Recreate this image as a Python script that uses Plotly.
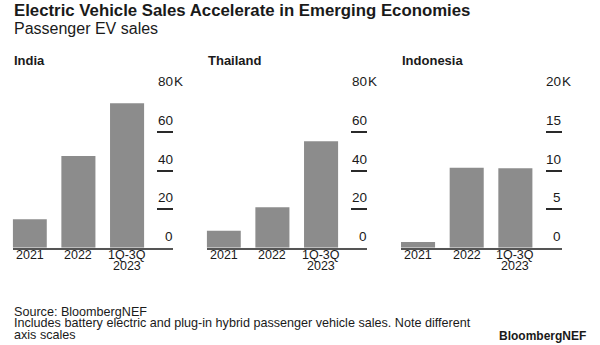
import plotly.graph_objects as go

# ---- data ----
countries = ["India", "Thailand", "Indonesia"]
periods = ["2021", "2022", "1Q-3Q<br>2023"]
india_sales = [14700, 47500, 74800]
thailand_sales = [8800, 20900, 55100]
indonesia_sales = [740, 10350, 10280]
sales = [india_sales, thailand_sales, indonesia_sales]

india_ticks = [0, 20000, 40000, 60000, 80000]
thailand_ticks = [0, 20000, 40000, 60000, 80000]
indonesia_ticks = [0, 5000, 10000, 15000, 20000]
tick_vals = [india_ticks, thailand_ticks, indonesia_ticks]

india_tick_text = ["0", "20", "40", "60", "80"]
thailand_tick_text = ["0", "20", "40", "60", "80"]
indonesia_tick_text = ["0", "5", "10", "15", "20"]
tick_texts = [india_tick_text, thailand_tick_text, indonesia_tick_text]
unit_suffix = "K"

title = "Electric Vehicle Sales Accelerate in Emerging Economies"
subtitle = "Passenger EV sales"
footer_lines = [
    "Source: BloombergNEF",
    "Includes battery electric and plug-in hybrid passenger vehicle sales. Note different",
    "axis scales",
]
brand = "BloombergNEF"

# ---- layout constants ----
W, H = 600, 345
FONT = "Liberation Sans, Arial, sans-serif"
BAR = "#8c8c8c"
INK = "#1a1a1a"
x_left = [12.7, 206.7, 401.0]
panel_w = 160.6
y_base = 247.7
y_top = 93.3

fig = go.Figure()
annotations = []
for i, (name, vals) in enumerate(zip(countries, sales)):
    xa = "x" if i == 0 else f"x{i+1}"
    ya = "y" if i == 0 else f"y{i+1}"
    fig.add_trace(go.Bar(
        x=periods, y=vals, xaxis=xa, yaxis=ya,
        marker=dict(color=BAR, line=dict(width=0)),
        width=0.7, showlegend=False, hoverinfo="skip",
    ))
    xkey = "xaxis" if i == 0 else f"xaxis{i+1}"
    ykey = "yaxis" if i == 0 else f"yaxis{i+1}"
    fig.update_layout({
        xkey: dict(
            domain=[x_left[i] / W, (x_left[i] + panel_w) / W],
            anchor=ya, type="category", categoryorder="array", categoryarray=periods,
            range=[-0.35, 2.95],
            showline=True, linecolor="#555555", linewidth=1.5,
            ticks="", showgrid=False, zeroline=False, showticklabels=False,
            fixedrange=True,
        ),
        ykey: dict(
            domain=[1 - y_base / H, 1 - y_top / H],
            anchor=xa, side="right", range=[0, tick_vals[i][-1]],
            tickmode="array", tickvals=tick_vals[i],
            ticks="inside", ticklen=16, tickwidth=1.6, tickcolor="#2a2a2a",
            showticklabels=False, showline=False, showgrid=False, zeroline=False,
            fixedrange=True,
        ),
    })
    xd = f"{xa} domain"
    yd = f"{ya} domain"
    # category labels (one annotation per line for tight spacing), placed by category index
    for j, p in enumerate(periods):
        for k, part in enumerate(p.split("<br>")):
            annotations.append(dict(
                xref=xa, yref=yd, x=j, y=0, text=part, showarrow=False,
                xanchor="center", yanchor="middle", yshift=-(7.4 + 11.2 * k),
                font=dict(family=FONT, size=12.5, color=INK),
            ))
    # value-axis labels above the tick dashes
    for tv, tt in zip(tick_vals[i], tick_texts[i]):
        annotations.append(dict(
            xref=xd, yref=ya, x=1, y=tv, text=tt, showarrow=False,
            xanchor="right", yanchor="bottom", yshift=2, xshift=1.5,
            font=dict(family=FONT, size=13.5, color=INK),
        ))
    annotations.append(dict(
        xref=xd, yref=ya, x=1, y=tick_vals[i][-1], text=unit_suffix, showarrow=False,
        xanchor="left", yanchor="bottom", yshift=2, xshift=-1.5,
        font=dict(family=FONT, size=13.5, color=INK),
    ))
    annotations.append(dict(
        xref="paper", yref="paper", x=(x_left[i] - 1) / W, y=1 - 60 / H,
        text=f"<b>{name}</b>", showarrow=False, xanchor="left", yanchor="middle",
        font=dict(family=FONT, size=13, color=INK),
    ))

annotations.append(dict(
    xref="paper", yref="paper", x=12 / W, y=1 - 11 / H, text=f"<b>{title}</b>",
    showarrow=False, xanchor="left", yanchor="middle",
    font=dict(family=FONT, size=16.8, color=INK),
))
annotations.append(dict(
    xref="paper", yref="paper", x=12 / W, y=1 - 28 / H, text=subtitle,
    showarrow=False, xanchor="left", yanchor="middle",
    font=dict(family=FONT, size=16, color=INK),
))
for k, line in enumerate(footer_lines):
    annotations.append(dict(
        xref="paper", yref="paper", x=12 / W, y=1 - (311.6 + 11.7 * k) / H, text=line,
        showarrow=False, xanchor="left", yanchor="middle",
        font=dict(family=FONT, size=12.6, color=INK),
    ))
annotations.append(dict(
    xref="paper", yref="paper", x=588 / W, y=1 - 336 / H, text=f"<b>{brand}</b>",
    showarrow=False, xanchor="right", yanchor="middle",
    font=dict(family=FONT, size=12, color=INK),
))

fig.update_layout(
    width=W, height=H, margin=dict(l=0, r=0, t=0, b=0),
    paper_bgcolor="white", plot_bgcolor="white",
    bargap=0.3, annotations=annotations,
    font=dict(family=FONT, color=INK),
)

fig.write_html("out.html", config={"displayModeBar": False})
